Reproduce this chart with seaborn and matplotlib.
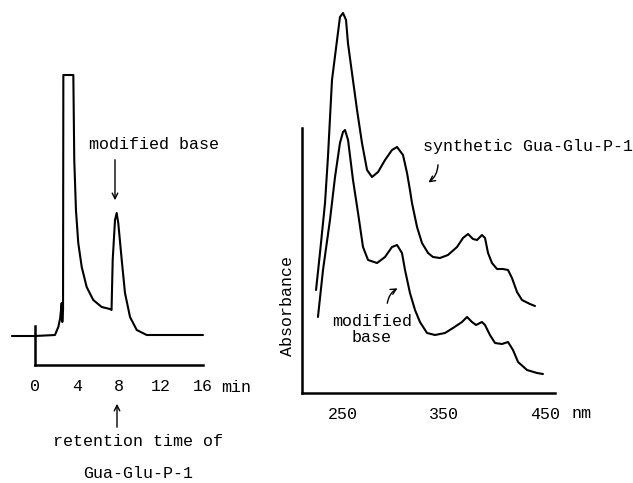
import matplotlib
matplotlib.use("Agg")
import matplotlib.pyplot as plt
import seaborn as sns
import pandas as pd

# ---------------- data ----------------
# HPLC chromatogram (time in min, detector signal arbitrary units)
time_min = [-2.2, 0, 1.9, 2.22, 2.4, 2.54, 2.6, 2.67, 2.7, 3.65, 3.74, 3.9, 4.12,
            4.45, 4.92, 5.55, 6.35, 7.14, 7.29, 7.4, 7.62, 7.78, 7.93, 8.26, 8.57,
            9.05, 9.69, 10.64, 16]
signal = [0, 0, 1, 9, 18, 33, 14, 26, 261, 261, 176, 126, 93, 69, 49, 36, 29, 27,
          26, 76, 116, 123, 113, 76, 43, 19, 6, 1, 1]
time_ticks = [0, 4, 8, 12, 16]

# UV spectra (wavelength nm, absorbance arbitrary units)
lam_syn = [223.3, 227.2, 232.2, 235.1, 239.1, 244.1, 247.0, 250, 253.0, 254.9,
           258.9, 263.9, 268.8, 273.8, 278.7, 284.7, 291.6, 298.5, 303.5, 309.4,
           313.4, 316.3, 318.3, 323.3, 328.2, 334.2, 339.1, 346.0, 353.9, 362.9,
           368.8, 373.8, 378.7, 382.7, 387.6, 390.6, 393.6, 397.5, 402.5, 408.4,
           413.4, 417.3, 422.3, 427.2, 435.1, 440.1]
abs_syn = [103, 140, 190, 236, 313, 353, 376, 380, 373, 350, 320, 283, 250, 223,
           216, 221, 233, 243, 246, 238, 220, 203, 190, 166, 150, 140, 136, 135,
           138, 146, 155, 159, 154, 153, 158, 155, 140, 130, 124, 124, 123, 115,
           101, 93, 89, 87]
lam_mod = [225.2, 230.2, 237.1, 242.1, 247.0, 250, 252.0, 255.0, 259.9, 264.9,
           269.8, 274.8, 283.7, 291.6, 298.5, 303.5, 308.4, 311.4, 316.3, 321.3,
           326.2, 333.2, 341.1, 351.0, 358.9, 367.8, 372.8, 377.7, 381.7, 387.6,
           390.6, 395.5, 400.5, 407.4, 413.4, 418.3, 423.3, 432.2, 442.1, 448.0]
abs_mod = [76, 123, 173, 216, 250, 261, 263, 253, 213, 180, 146, 133, 130, 136,
           146, 148, 140, 123, 100, 83, 71, 60, 58, 60, 65, 71, 76, 71, 68, 71, 68,
           58, 50, 49, 51, 43, 31, 23, 20, 19]
lam_ticks = [250, 350, 450]

# ---------------- style ----------------
sns.set_style("white")
plt.rcParams['font.family'] = ['Liberation Mono', 'DejaVu Sans Mono']
plt.rcParams['font.size'] = 12
FONT = 12
LW = 1.5
W, H = 633, 483
fig = plt.figure(figsize=(W / 100, H / 100), dpi=100)


def fx(x):
    return x / W


def fy(y):
    return 1 - y / H


# ---------------- left panel: chromatogram ----------------
axL = fig.add_axes([fx(10), fy(370), fx(200), (370 - 60) / H])
chrom = pd.DataFrame({"t": time_min, "s": signal})
sns.lineplot(data=chrom, x="t", y="s", sort=False, estimator=None,
             color="black", lw=LW, ax=axL, solid_joinstyle="round")
axL.set_xlim((10 - 35) / 10.5, (210 - 35) / 10.5)
axL.set_ylim(336 - 370, 336 - 60)
for sp in ["top", "right"]:
    axL.spines[sp].set_visible(False)
axL.spines["left"].set_position(("data", 0))
axL.spines["left"].set_bounds(-29, 10)
axL.spines["bottom"].set_position(("data", -29))
axL.spines["bottom"].set_bounds(0, 16)
for sp in ["left", "bottom"]:
    axL.spines[sp].set_linewidth(1.8)
    axL.spines[sp].set_color("black")
axL.set_yticks([])
axL.set_xticks(time_ticks)
axL.set_xticklabels([str(v) for v in time_ticks])
axL.tick_params(axis="x", direction="inout", length=6, width=1.5, pad=7,
                labelsize=FONT, colors="black")
axL.set_xlabel("")
axL.set_ylabel("")
axL.patch.set_alpha(0)

# ---------------- right panel: UV spectra ----------------
def px_to_lam(x):
    return 250 + (x - 343) / 1.01


axR = fig.add_axes([fx(290), fy(400), fx(310), (400 - 5) / H])
syn = pd.DataFrame({"lam": lam_syn, "A": abs_syn})
mod = pd.DataFrame({"lam": lam_mod, "A": abs_mod})
sns.lineplot(data=syn, x="lam", y="A", sort=False, estimator=None,
             color="black", lw=LW, ax=axR, solid_joinstyle="round")
sns.lineplot(data=mod, x="lam", y="A", sort=False, estimator=None,
             color="black", lw=LW, ax=axR, solid_joinstyle="round")
axR.set_xlim(px_to_lam(290), px_to_lam(600))
axR.set_ylim(393 - 400, 393 - 5)
for sp in ["top", "right"]:
    axR.spines[sp].set_visible(False)
axR.spines["left"].set_position(("data", px_to_lam(302)))
axR.spines["left"].set_bounds(0, 265)
axR.spines["bottom"].set_position(("data", 0))
axR.spines["bottom"].set_bounds(px_to_lam(302), px_to_lam(555))
for sp in ["left", "bottom"]:
    axR.spines[sp].set_linewidth(1.8)
    axR.spines[sp].set_color("black")
axR.set_yticks([])
axR.set_xticks(lam_ticks)
axR.set_xticklabels([str(v) for v in lam_ticks])
axR.tick_params(axis="x", direction="inout", length=6, width=1.5, pad=7,
                labelsize=FONT, colors="black")
axR.set_xlabel("")
axR.set_ylabel("")
axR.patch.set_alpha(0)

# ---------------- texts and arrows ----------------
txt = dict(fontsize=FONT, color="black", ha="center", va="center")
fig.text(fx(154), fy(145), "modified base", **txt)
fig.text(fx(236), fy(387), "min", **txt)
fig.text(fx(138), fy(442), "retention time of", **txt)
fig.text(fx(138), fy(474), "Gua-Glu-P-1", **txt)
fig.text(fx(582), fy(413), "nm", **txt)
fig.text(fx(423), fy(146), "synthetic Gua-Glu-P-1", fontsize=FONT, color="black",
         ha="left", va="center")
fig.text(fx(372), fy(321), "modified", **txt)
fig.text(fx(372), fy(337), "base", **txt)
fig.text(fx(288), fy(306), "Absorbance", rotation=90, **txt)

arrow = dict(arrowstyle="->", color="black", lw=1.0, mutation_scale=10)


def arr(x0, y0, x1, y1, rad=0.0):
    fig.add_artist(matplotlib.patches.FancyArrowPatch(
        (fx(x0), fy(y0)), (fx(x1), fy(y1)), transform=fig.transFigure,
        connectionstyle=f"arc3,rad={rad}", **arrow))


arr(115, 157, 115, 203)
arr(117, 430, 117, 401)
arr(438, 162, 426, 184, rad=-0.3)
arr(387, 306, 400, 287, rad=-0.3)

fig.savefig("out.png", dpi=100)
